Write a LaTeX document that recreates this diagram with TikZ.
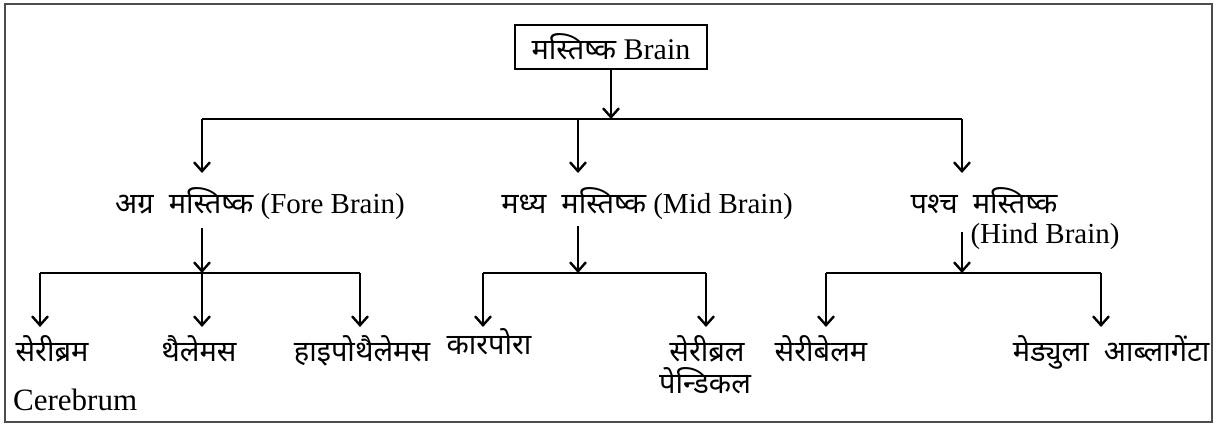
\documentclass[tikz,border=0pt]{standalone}
\usepackage{fontspec}
\setmainfont{Liberation Serif}
\newfontfamily\devfont[Script=Devanagari]{Noto Sans}
\usetikzlibrary{arrows.meta}
\newcommand\hin[1]{{\devfont\fontsize{29}{34}\selectfont #1}}
\tikzset{
  txt/.style={font=\fontsize{29}{34}\selectfont, inner sep=0pt, anchor=base},
  arr/.style={line width=2.4pt, -{Straight Barb[length=9pt,width=16pt,line width=2.4pt]}},
  ln/.style={line width=2.4pt},
  frame/.style={draw=black!70, line width=2pt}
}
\begin{document}
\begin{tikzpicture}[x=1pt,y=-1pt]
\path[use as bounding box] (0,0) rectangle (1217,426);
\draw[frame] (5,4) rectangle (1212,422);

% root
\node[draw, line width=1.6pt, minimum width=192pt, minimum height=44pt, inner sep=0pt,
      font=\fontsize{30}{34}\selectfont] (brain) at (611,47) {\hin{मस्तिष्क} Brain};

% level 1 junctions
\coordinate (j0) at (611,119);
\coordinate (jf) at (202,119);
\coordinate (jm) at (578,119);
\coordinate (jh) at (962,119);
\draw[arr] (brain.south) -- (j0);
\draw[ln] (jf) -- (jh);

% level 2 labels
\node[txt] (fore) at (260,213) {\hin{अग्र\ \ मस्तिष्क} (Fore Brain)};
\node[txt] (mid) at (647,213) {\hin{मध्य\ \ मस्तिष्क} (Mid Brain)};
\node[txt] (hind) at (984,213) {\hin{पश्च\ \ मस्तिष्क}};
\node[txt] (hindb) at (1045,243) {(Hind Brain)};

\coordinate (tf) at (202,173);
\coordinate (tm) at (578,173);
\coordinate (th) at (962,173);
\draw[arr] (jf) -- (tf);
\draw[arr] (jm) -- (tm);
\draw[arr] (jh) -- (th);

% stems to level 3
\coordinate (sf) at (202,228);
\coordinate (sm) at (578,226);
\coordinate (sh) at (962,232);
\coordinate (kf) at (202,273);
\coordinate (km) at (578,273);
\coordinate (kh) at (962,273);
\draw[arr] (sf) -- (kf);
\draw[arr] (sm) -- (km);
\draw[arr] (sh) -- (kh);

% level 3 horizontal lines
\coordinate (f1) at (40,273);
\coordinate (f3) at (360,273);
\coordinate (m1) at (483,273);
\coordinate (m2) at (706,273);
\coordinate (h1) at (826,273);
\coordinate (h2) at (1101,273);
\draw[ln] (f1) -- (f3);
\draw[ln] (m1) -- (m2);
\draw[ln] (h1) -- (h2);

% level 3 arrows
\coordinate (tf1) at (40,327);
\coordinate (tf2) at (202,327);
\coordinate (tf3) at (360,327);
\coordinate (tm1) at (483,327);
\coordinate (tm2) at (706,327);
\coordinate (th1) at (826,327);
\coordinate (th2) at (1101,327);
\draw[arr] (f1) -- (tf1);
\draw[arr] (kf) -- (tf2);
\draw[arr] (f3) -- (tf3);
\draw[arr] (m1) -- (tm1);
\draw[arr] (m2) -- (tm2);
\draw[arr] (h1) -- (th1);
\draw[arr] (h2) -- (th2);

% level 3 labels
\node[txt] (cerebrum) at (52,361) {\hin{सेरीब्रम}};
\node[txt, anchor=base west, font=\fontsize{31}{36}\selectfont] (cerebrumE) at (13,410) {Cerebrum};
\node[txt] (thal) at (199,361) {\hin{थैलेमस}};
\node[txt] (hypo) at (362,361) {\hin{हाइपोथैलेमस}};
\node[txt] (corp) at (489,354) {\hin{कारपोरा}};
\node[txt] (cerped1) at (707,361) {\hin{सेरीब्रल}};
\node[txt] (cerped2) at (705,393) {\hin{पेन्डिकल}};
\node[txt] (cbl) at (821,361) {\hin{सेरीबेलम}};
\node[txt] (med) at (1111,361) {\hin{मेड्युला\ \ आब्लागेंटा}};
\end{tikzpicture}
\end{document}
